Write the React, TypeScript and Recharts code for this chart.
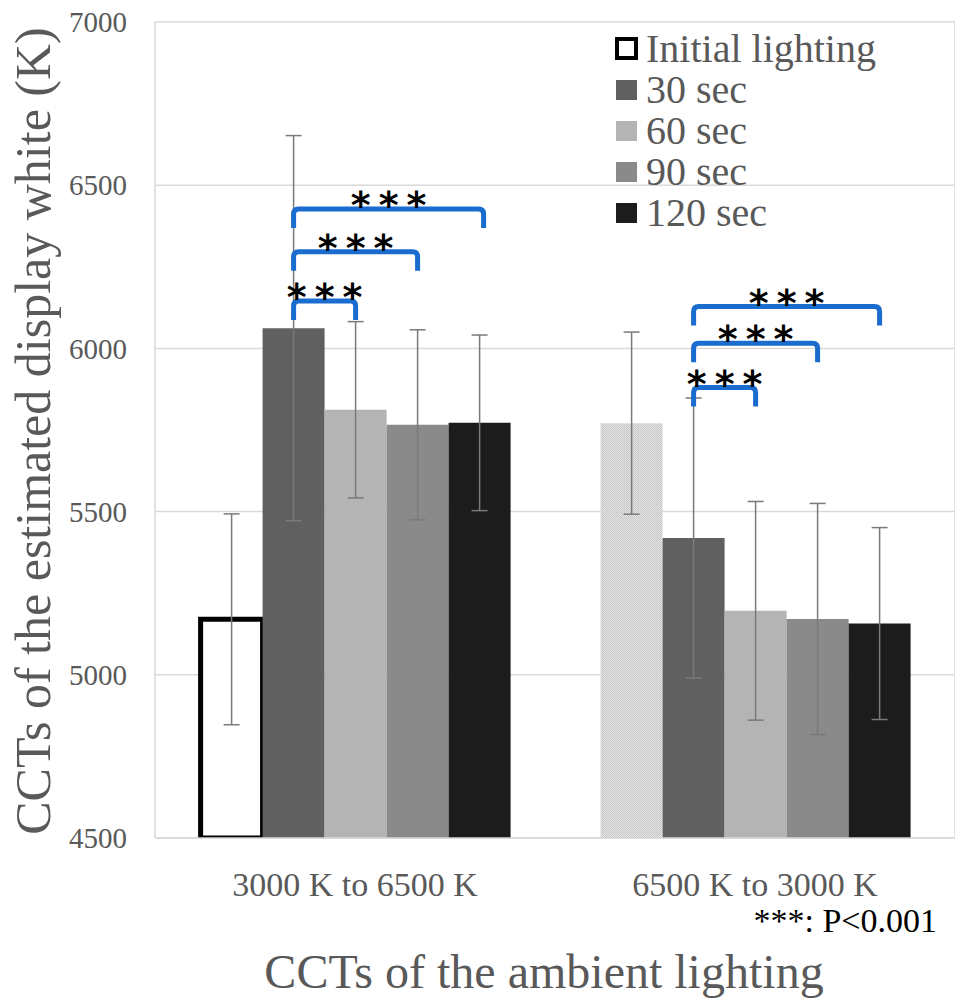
import React from 'react';
import { BarChart, Bar, XAxis, YAxis, CartesianGrid, ErrorBar, Cell, Legend } from 'recharts';

const categories = ['3000 K to 6500 K', '6500 K to 3000 K'];
const seriesNames = ['Initial lighting', '30 sec', '60 sec', '90 sec', '120 sec'];
const initialMeans = [5170, 5771];
const initialSD = [323, 279];
const sec30Means = [6062, 5419];
const sec30SD = [590, 429];
const sec60Means = [5812, 5196];
const sec60SD = [270, 335];
const sec90Means = [5766, 5171];
const sec90SD = [291, 354];
const sec120Means = [5772, 5157];
const sec120SD = [269, 294];
const yTicks = [4500, 5000, 5500, 6000, 6500, 7000];
const Y_MIN = 4500;
const Y_MAX = 7000;
// significance brackets: from the 30 sec bar to the bar `to` steps to its right, at value `level`
const brackets = [
  { cat: 0, to: 1, level: 6145 },
  { cat: 0, to: 2, level: 6296 },
  { cat: 0, to: 3, level: 6427 },
  { cat: 1, to: 1, level: 5880 },
  { cat: 1, to: 2, level: 6016 },
  { cat: 1, to: 3, level: 6128 },
];
const sigMark = '***';
const pNote = '***: P<0.001';

const seriesColors = ['#ffffff', '#606060', '#b4b4b4', '#8a8a8a', '#1c1c1c'];
const SERIF = '"Liberation Serif", "Times New Roman", serif';
const TEXT = '#595959';
const BLUE = '#1b6ccf';

const data = categories.map((c, i) => ({
  category: c,
  initial: initialMeans[i],
  initialSD: initialSD[i],
  s30: sec30Means[i],
  s30SD: sec30SD[i],
  s60: sec60Means[i],
  s60SD: sec60SD[i],
  s90: sec90Means[i],
  s90SD: sec90SD[i],
  s120: sec120Means[i],
  s120SD: sec120SD[i],
}));

const renderBrackets = (props: any) => {
  const { index, value } = props;
  const vb = props.viewBox && props.viewBox.width != null ? props.viewBox : props;
  const { x, y, width, height } = vb;
  if (!height || value == null) return null;
  const base = y + height;
  const ppu = height / (Number(value) - Y_MIN);
  const toPx = (v: number) => base - (v - Y_MIN) * ppu;
  const c30 = x + width / 2 - 3 * width;
  const leg = 19;
  const r = 5;
  return (
    <g>
      {brackets
        .filter((b) => b.cat === index)
        .map((b, k) => {
          const x1 = c30;
          const x2 = c30 + b.to * width + (b.to === 3 && b.cat === 0 ? 4 : 0);
          const yl = toPx(b.level);
          const d = `M ${x1} ${yl + leg} L ${x1} ${yl + r} Q ${x1} ${yl} ${x1 + r} ${yl} L ${x2 - r} ${yl} Q ${x2} ${yl} ${x2} ${yl + r} L ${x2} ${yl + leg}`;
          return (
            <g key={k}>
              <path d={d} stroke={BLUE} strokeWidth={5} fill="none" />
              <text
                x={(x1 + x2) / 2 + 4}
                y={yl + 9}
                textAnchor="middle"
                fontFamily='"DejaVu Sans", sans-serif'
                fontWeight="bold"
                fontSize={38}
                letterSpacing={8}
                fill="#000"
              >
                {sigMark}
              </text>
            </g>
          );
        })}
    </g>
  );
};

const renderLegend = () => (
  <div style={{ fontFamily: SERIF, fontSize: 40, color: TEXT, lineHeight: '41px' }}>
    {seriesNames.map((n, i) => (
      <div key={n} style={{ display: 'flex', alignItems: 'center', height: 41, whiteSpace: 'nowrap' }}>
        <span
          style={{
            display: 'inline-block',
            width: i === 0 ? 23 : 21,
            height: i === 0 ? 23 : 20,
            boxSizing: 'border-box',
            background: seriesColors[i],
            border: i === 0 ? '4px solid #000' : 'none',
            marginRight: i === 0 ? 8 : 9,
            marginLeft: i === 0 ? -1 : 0,
          }}
        />
        {n}
      </div>
    ))}
  </div>
);

const YLabel = (props: any) => {
  const vb = props.viewBox || { x: 0, y: 22, width: 155, height: 816 };
  const cx = 50;
  const cy = vb.y + vb.height / 2 + 1;
  return (
    <text
      x={cx}
      y={cy}
      transform={`rotate(-90, ${cx}, ${cy})`}
      textAnchor="middle"
      fontFamily={SERIF}
      fontSize={50}
      fill={TEXT}
    >
      CCTs of the estimated display white (K)
    </text>
  );
};

const XLabel = (props: any) => {
  const vb = props.viewBox || { x: 155, y: 838, width: 800, height: 164 };
  return (
    <g>
      <text
        x={vb.x + vb.width / 2 - 11}
        y={vb.y + 150}
        textAnchor="middle"
        fontFamily={SERIF}
        fontSize={48}
        fill={TEXT}
      >
        CCTs of the ambient lighting
      </text>
      <text
        x={vb.x + vb.width - 18}
        y={vb.y + 94}
        textAnchor="end"
        fontFamily={SERIF}
        fontSize={34}
        fill="#000"
      >
        {pNote}
      </text>
    </g>
  );
};

export default function App() {
  const errStyle = { stroke: '#7a7a7a', strokeWidth: 1.5, width: 8 };
  return (
    <div style={{ position: 'absolute', left: 0, top: 0, width: 955, height: 1002, background: '#fff' }}>
      <BarChart
        width={955}
        height={1002}
        data={data}
        margin={{ top: 22, right: 0, left: 0, bottom: 0 }}
        barCategoryGap="11.4%"
        barGap={0}
      >
        <defs>
          <pattern id="hatch" width="2" height="2" patternUnits="userSpaceOnUse">
            <rect width="2" height="2" fill="#e6e6e6" />
            <rect width="1" height="1" fill="#c2c2c2" />
            <rect x="1" y="1" width="1" height="1" fill="#c8c8c8" />
          </pattern>
        </defs>
        <CartesianGrid xAxisId="bounds" stroke="#d9d9d9" strokeWidth={1.5} vertical horizontal />
        <XAxis xAxisId="bounds" type="number" domain={[0, 2]} ticks={[0, 1, 2]} hide />
        <XAxis
          dataKey="category"
          height={164}
          tickLine={false}
          axisLine={{ stroke: '#d9d9d9', strokeWidth: 1.5 }}
          tickSize={0}
          tickMargin={34}
          tick={{ fontFamily: SERIF, fontSize: 34, fill: TEXT }}
          label={<XLabel />}
        />
        <YAxis
          width={155}
          domain={[Y_MIN, Y_MAX]}
          ticks={yTicks}
          allowDataOverflow
          axisLine={false}
          tickLine={false}
          tickSize={0}
          tickMargin={28}
          tick={{ fontFamily: SERIF, fontSize: 29, fill: TEXT }}
          label={<YLabel />}
        />
        <Legend
          layout="vertical"
          align="center"
          verticalAlign="middle"
          content={renderLegend}
          wrapperStyle={{ top: 28, left: 616, width: 330, height: 210 }}
        />
        <Bar dataKey="initial" name={seriesNames[0]} isAnimationActive={false}>
          <Cell fill="#ffffff" stroke="#000000" strokeWidth={5} />
          <Cell fill="url(#hatch)" stroke="none" />
          <ErrorBar dataKey="initialSD" {...errStyle} />
        </Bar>
        <Bar dataKey="s30" name={seriesNames[1]} fill={seriesColors[1]} isAnimationActive={false}>
          <ErrorBar dataKey="s30SD" {...errStyle} />
        </Bar>
        <Bar dataKey="s60" name={seriesNames[2]} fill={seriesColors[2]} isAnimationActive={false}>
          <ErrorBar dataKey="s60SD" {...errStyle} />
        </Bar>
        <Bar dataKey="s90" name={seriesNames[3]} fill={seriesColors[3]} isAnimationActive={false}>
          <ErrorBar dataKey="s90SD" {...errStyle} />
        </Bar>
        <Bar dataKey="s120" name={seriesNames[4]} fill={seriesColors[4]} isAnimationActive={false} label={renderBrackets}>
          <ErrorBar dataKey="s120SD" {...errStyle} />
        </Bar>
      </BarChart>
    </div>
  );
}
